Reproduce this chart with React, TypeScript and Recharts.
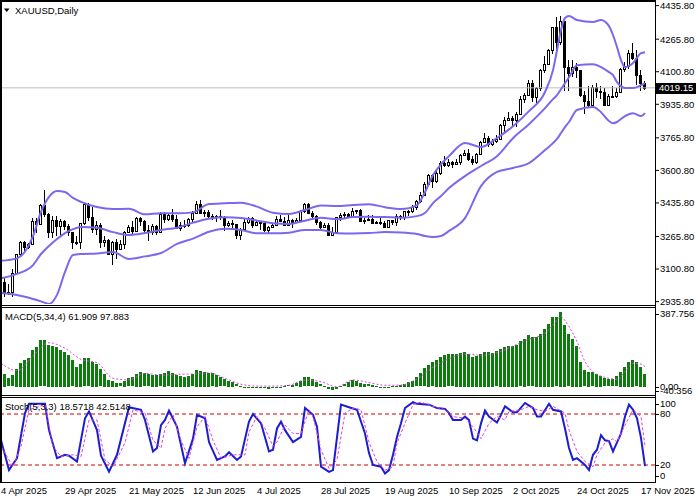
import { ComposedChart, Bar, Line, XAxis, YAxis, ReferenceLine } from "recharts";

const FONT = "'Liberation Sans', Arial, sans-serif";

// XAUUSD daily, 4 Apr 2025 .. 18 Nov 2025 (bar index = position on the chart)
const opens = [
  3114, 3037, 2982, 2982, 3083, 3175, 3237, 3210, 3229, 3343,
  3327, 3423, 3381, 3288, 3349, 3319, 3344, 3317, 3288, 3239,
  3240, 3334, 3431, 3365, 3305, 3324, 3236, 3248, 3177, 3240,
  3202, 3229, 3290, 3314, 3294, 3357, 3342, 3301, 3288, 3318,
  3289, 3381, 3353, 3373, 3352, 3310, 3325, 3322, 3354, 3386,
  3432, 3385, 3388, 3369, 3370, 3368, 3366, 3323, 3332, 3328,
  3274, 3303, 3338, 3357, 3326, 3337, 3335, 3301, 3313, 3324,
  3355, 3343, 3324, 3347, 3338, 3350, 3396, 3431, 3387, 3368,
  3337, 3314, 3326, 3274, 3289, 3363, 3373, 3380, 3368, 3396,
  3398, 3343, 3348, 3356, 3335, 3337, 3332, 3315, 3347, 3339,
  3371, 3365, 3393, 3397, 3416, 3448, 3477, 3533, 3578, 3545,
  3587, 3636, 3626, 3641, 3634, 3643, 3679, 3689, 3659, 3644,
  3685, 3746, 3763, 3736, 3749, 3760, 3833, 3858, 3866, 3857,
  3886, 3961, 3985, 4042, 3975, 4018, 4110, 4142, 4209, 4326,
  4251, 4356, 4125, 4095, 4126, 4111, 3981, 3952, 3930, 4024,
  4002, 4000, 3932, 3980, 3977, 4000, 4115, 4128, 4194, 4170,
  4084, 4045,
];
const highs = [
  3136, 3055, 3023, 3100, 3178, 3245, 3245, 3234, 3357, 3357,
  3430, 3500, 3386, 3368, 3371, 3352, 3348, 3328, 3291, 3269,
  3336, 3438, 3435, 3414, 3346, 3336, 3266, 3252, 3245, 3252,
  3250, 3295, 3325, 3346, 3366, 3364, 3350, 3325, 3330, 3325,
  3392, 3392, 3385, 3403, 3376, 3338, 3349, 3360, 3397, 3446,
  3452, 3402, 3400, 3382, 3375, 3398, 3370, 3346, 3350, 3330,
  3309, 3358, 3365, 3366, 3345, 3342, 3346, 3317, 3331, 3369,
  3375, 3366, 3377, 3352, 3361, 3402, 3433, 3438, 3393, 3373,
  3345, 3334, 3334, 3315, 3365, 3385, 3390, 3385, 3409, 3400,
  3405, 3358, 3375, 3375, 3345, 3358, 3345, 3350, 3351, 3379,
  3376, 3395, 3399, 3423, 3453, 3490, 3540, 3580, 3582, 3600,
  3646, 3674, 3658, 3648, 3656, 3686, 3703, 3707, 3672, 3688,
  3749, 3791, 3777, 3762, 3782, 3835, 3872, 3895, 3875, 3896,
  3977, 3991, 4060, 4059, 4023, 4116, 4179, 4218, 4330, 4380,
  4381, 4360, 4161, 4160, 4147, 4112, 4003, 4030, 4033, 4046,
  4030, 4020, 3990, 4028, 4020, 4120, 4148, 4210, 4245, 4211,
  4108, 4052,
];
const lows = [
  3015, 2957, 2970, 2957, 3072, 3167, 3194, 3204, 3225, 3283,
  3325, 3367, 3260, 3260, 3268, 3269, 3300, 3268, 3202, 3223,
  3201, 3323, 3342, 3282, 3271, 3208, 3213, 3171, 3120, 3154,
  3200, 3204, 3285, 3277, 3287, 3321, 3285, 3245, 3271, 3271,
  3287, 3333, 3344, 3339, 3307, 3293, 3308, 3314, 3339, 3385,
  3384, 3367, 3362, 3347, 3340, 3348, 3295, 3313, 3310, 3255,
  3247, 3295, 3327, 3311, 3323, 3297, 3287, 3283, 3310, 3322,
  3341, 3321, 3319, 3310, 3332, 3345, 3383, 3381, 3351, 3325,
  3301, 3308, 3268, 3268, 3281, 3346, 3352, 3358, 3365, 3381,
  3341, 3331, 3347, 3330, 3331, 3323, 3311, 3312, 3325, 3321,
  3351, 3351, 3370, 3385, 3400, 3436, 3471, 3528, 3511, 3537,
  3578, 3620, 3620, 3615, 3632, 3630, 3675, 3646, 3628, 3634,
  3683, 3738, 3717, 3722, 3740, 3758, 3793, 3850, 3820, 3822,
  3883, 3940, 3980, 3945, 3944, 4005, 4095, 4140, 4190, 4185,
  4237, 4004, 4004, 4075, 4069, 3975, 3886, 3918, 3920, 3967,
  3961, 3930, 3929, 3970, 3968, 3997, 4100, 4115, 4160, 4032,
  4005, 4010,
];
const closes = [
  3037, 2982, 2984, 3083, 3175, 3237, 3210, 3229, 3343, 3327,
  3423, 3381, 3288, 3349, 3319, 3344, 3317, 3288, 3239, 3240,
  3334, 3431, 3365, 3305, 3324, 3236, 3248, 3177, 3240, 3202,
  3229, 3290, 3314, 3294, 3357, 3342, 3301, 3288, 3318, 3289,
  3381, 3353, 3373, 3352, 3310, 3325, 3322, 3354, 3386, 3432,
  3385, 3388, 3369, 3370, 3368, 3366, 3323, 3332, 3328, 3274,
  3303, 3338, 3357, 3326, 3337, 3335, 3301, 3313, 3324, 3355,
  3343, 3324, 3347, 3338, 3350, 3396, 3431, 3387, 3368, 3337,
  3314, 3326, 3274, 3289, 3363, 3373, 3380, 3368, 3396, 3398,
  3343, 3348, 3356, 3335, 3337, 3332, 3315, 3347, 3339, 3371,
  3365, 3393, 3397, 3416, 3448, 3477, 3533, 3578, 3545, 3587,
  3636, 3626, 3641, 3634, 3643, 3679, 3689, 3659, 3644, 3685,
  3746, 3763, 3736, 3749, 3760, 3833, 3858, 3866, 3857, 3886,
  3961, 3985, 4042, 3975, 4018, 4110, 4142, 4209, 4326, 4251,
  4356, 4125, 4095, 4126, 4111, 3981, 3952, 3930, 4024, 4002,
  4000, 3932, 3980, 3977, 4000, 4115, 4128, 4194, 4170, 4084,
  4045, 4019.15,
];

// Bollinger bands, read at these bars
const bandBars = [
  0, 4, 8, 10, 12, 14, 16, 18, 20, 24, 28, 32, 36, 40, 44, 48, 52, 56, 60, 64,
  68, 72, 76, 80, 84, 88, 92, 96, 100, 104, 106, 108, 110, 112, 116, 120, 124, 128, 132, 136,
  138, 139, 140, 141, 142, 144, 148, 150, 152, 153, 154, 155, 156, 158, 160, 161,
];
const bbUpper = [
  3143, 3155, 3268, 3390, 3466, 3496, 3491, 3461, 3441, 3415, 3405, 3406, 3378, 3384, 3383, 3388, 3430, 3434, 3437, 3417,
  3386, 3380, 3400, 3423, 3420, 3425, 3429, 3414, 3405, 3425, 3491, 3577, 3632, 3673, 3740, 3719, 3765, 3825, 3901, 3998,
  4109, 4210, 4312, 4373, 4383, 4363, 4353, 4363, 4332, 4287, 4226, 4160, 4124, 4145, 4195, 4200,
];
const bbMiddle = [
  3054, 3076, 3121, 3177, 3218, 3253, 3283, 3303, 3314, 3310, 3288, 3273, 3283, 3299, 3310, 3336, 3356, 3363, 3360, 3346,
  3333, 3329, 3346, 3361, 3353, 3364, 3366, 3364, 3361, 3369, 3385, 3435, 3471, 3511, 3572, 3623, 3673, 3764, 3835, 3916,
  3962, 3982, 4012, 4043, 4073, 4134, 4139, 4124, 4099, 4084, 4048, 4028, 4018, 4018, 4033, 4043,
];
const bbLower = [
  2979, 2969, 2949, 2937, 2924, 2970, 3086, 3172, 3177, 3180, 3187, 3152, 3165, 3182, 3228, 3255, 3290, 3305, 3299, 3282,
  3282, 3285, 3299, 3299, 3282, 3281, 3283, 3288, 3286, 3278, 3268, 3263, 3268, 3294, 3359, 3521, 3593, 3613, 3638, 3704,
  3739, 3760, 3790, 3820, 3846, 3907, 3922, 3896, 3851, 3840, 3846, 3861, 3876, 3891, 3876, 3891,
];

// MACD(5,34,4): histogram on every bar, signal read at these bars
const macdMain = [
  94, 62, 40, 55, 88, 115, 130, 142, 178, 195,
  226, 226, 203, 198, 194, 180, 170, 155, 128, 97,
  110, 138, 138, 122, 112, 85, 62, 33, 29, 19,
  16, 29, 41, 46, 64, 72, 65, 60, 58, 57,
  60, 68, 75, 68, 57, 54, 49, 52, 60, 81,
  78, 72, 68, 65, 57, 46, 36, 29, 23, 12,
  5, -3, -6, -3, -3, -5, -3, -8, -6, -3,
  -2, 3, 7, 8, 16, 29, 46, 46, 36, 24,
  12, 3, -8, -16, -8, 3, 12, 22, 33, 26,
  19, 15, 12, 8, 4, 0, -4, 0, 2, 4,
  8, 14, 22, 30, 45, 65, 90, 108, 118, 132,
  146, 154, 157, 158, 160, 164, 168, 160, 146, 150,
  160, 170, 168, 165, 172, 185, 195, 198, 198, 205,
  220, 232, 250, 240, 244, 258, 282, 305, 340, 338,
  365, 300, 255, 232, 200, 120, 80, 73, 70, 62,
  52, 40, 36, 36, 50, 72, 95, 120, 130, 118,
  95, 61.909,
];
const signalBars = [
  0, 4, 8, 12, 16, 20, 24, 28, 32, 36, 40, 44, 48, 52, 56, 60, 64, 68, 72, 76,
  80, 84, 88, 92, 96, 100, 104, 108, 112, 116, 120, 124, 128, 132, 136,
  138, 140, 141, 142, 144, 146, 148, 152, 154, 156, 158, 160, 161,
];
const macdSignal = [
  114, 78, 150, 214, 187, 133, 117, 41, 33, 65, 57, 60, 62, 68, 41, 12, 3, 3, 7, 33,
  24, 0, 33, 20, 7, 8, 39, 94, 136, 159, 153, 165, 198, 231, 260,
  300, 341, 321, 292, 219, 122, 73, 41, 36, 73, 114, 110, 97.883,
];

// Stochastic(5,3,3), read at turning points
const stochMainBars = [
  0, 2, 4, 6, 7, 11, 12, 14, 16, 17, 19, 21, 22, 24, 25, 27, 29, 32, 35, 36,
  38, 39, 40, 41, 42, 44, 46, 48, 49, 51, 52, 54, 56, 57, 59, 60, 62, 63, 65, 67,
  68, 69, 70, 71, 73, 75, 76, 78, 79, 80, 82, 83, 85, 87, 89, 91, 92, 93, 95, 96,
  97, 98, 99, 100, 101, 103, 104, 107, 109, 111, 112, 113, 115, 116, 117, 118, 119, 120, 121, 122,
  124, 125, 126, 128, 129, 131, 133, 134, 135, 137, 138, 140, 141, 142, 143, 144, 146, 147, 148, 149,
  150, 151, 152, 153, 155, 156, 157, 158, 159, 160, 161,
];
const stochMain = [
  49, 14, 28, 81, 92, 92, 61, 28, 32, 31, 24, 75, 83, 61, 31, 12, 32, 88, 85, 73,
  36, 40, 67, 73, 84, 65, 22, 51, 79, 75, 47, 26, 30, 35, 26, 30, 71, 80, 69, 36,
  38, 63, 71, 61, 47, 53, 87, 79, 65, 18, 12, 14, 91, 88, 85, 57, 34, 20, 18, 10,
  14, 32, 53, 69, 87, 94, 92, 91, 87, 86, 81, 73, 73, 77, 73, 51, 49, 69, 84, 77,
  70, 79, 89, 82, 82, 93, 87, 77, 77, 92, 85, 83, 63, 40, 26, 28, 20, 14, 32, 38,
  55, 49, 48, 36, 57, 77, 91, 85, 75, 52, 18.5718,
];
const stochSignalBars = [
  0, 3, 5, 7, 11, 13, 15, 18, 20, 22, 24, 26, 28, 31, 33, 36, 38, 40, 41, 43,
  45, 47, 49, 51, 53, 55, 58, 61, 62, 64, 66, 68, 69, 71, 73, 75, 77, 78, 80, 82,
  84, 86, 88, 90, 92, 94, 96, 98, 99, 101, 103, 105, 108, 111, 113, 116, 118, 120, 122, 124,
  126, 127, 130, 132, 134, 136, 138, 141, 142, 144, 146, 148, 149, 151, 153, 154, 156, 158, 160, 161,
];
const stochSignal = [
  42, 18, 42, 85, 91, 42, 30, 32, 30, 73, 73, 26, 18, 46, 85, 81, 49, 40, 63, 79,
  49, 28, 65, 77, 49, 28, 32, 32, 59, 77, 63, 42, 47, 67, 57, 57, 85, 77, 38, 16,
  26, 81, 87, 85, 47, 24, 14, 18, 46, 69, 91, 94, 89, 85, 77, 75, 65, 51, 69, 77,
  73, 83, 85, 89, 85, 83, 89, 81, 61, 36, 24, 18, 32, 46, 51, 47, 67, 85, 77, 42.5148,
];

const dateTicks = [0, 16, 32, 48, 64, 80, 96, 112, 128, 144, 160];
const dateLabels = [
  "4 Apr 2025", "29 Apr 2025", "21 May 2025", "12 Jun 2025", "4 Jul 2025", "28 Jul 2025",
  "19 Aug 2025", "10 Sep 2025", "2 Oct 2025", "24 Oct 2025", "17 Nov 2025",
];
const priceTicks = [2935.8, 3100.8, 3265.8, 3435.8, 3600.8, 3765.8, 3935.8, 4100.8, 4265.8, 4435.8];
const lastPrice = 4019.15;

const rows: any[] = opens.map((o, k) => ({
  k,
  o,
  h: highs[k],
  l: lows[k],
  c: closes[k],
  range: [lows[k], highs[k]],
  macd: macdMain[k],
}));
bandBars.forEach((k, j) => {
  rows[k].ub = bbUpper[j];
  rows[k].mb = bbMiddle[j];
  rows[k].lb = bbLower[j];
});
signalBars.forEach((k, j) => (rows[k].sig = macdSignal[j]));
stochMainBars.forEach((k, j) => (rows[k].sk = stochMain[j]));
stochSignalBars.forEach((k, j) => (rows[k].sd = stochSignal[j]));

const X_DOMAIN = [0, 163.5];
const BAND = "#7b68ee";

function Candle(props: any) {
  const { x, y, width, height, payload } = props;
  if (!payload || height == null) return null;
  const { o, h, l, c } = payload;
  const top = Math.min(y, y + height);
  const hgt = Math.abs(height);
  const px = Math.floor(x + width / 2);
  const k = hgt / (h - l || 1);
  const yOf = (v: number) => top + (h - v) * k;
  const bTop = Math.round(yOf(Math.max(o, c)));
  const bBot = Math.round(yOf(Math.min(o, c)));
  const bull = c >= o;
  return (
    <g shapeRendering="crispEdges">
      <line x1={px + 0.5} x2={px + 0.5} y1={Math.round(top)} y2={Math.round(top + hgt)} stroke="#000" />
      <rect
        x={px - 0.5}
        y={bTop + 0.5}
        width={2}
        height={Math.max(bBot - bTop, 1)}
        fill={bull ? "#fff" : "#000"}
        stroke="#000"
      />
    </g>
  );
}

function MacdBar(props: any) {
  const { x, y, width, height } = props;
  if (height == null) return null;
  const px = Math.floor(x + width / 2);
  const top = Math.min(y, y + height);
  return (
    <rect
      x={px - 1}
      y={Math.round(top)}
      width={3}
      height={Math.max(Math.round(Math.abs(height)), 1)}
      fill="#0b7d0b"
      shapeRendering="crispEdges"
    />
  );
}

function PriceTag(props: any) {
  const vb = props.viewBox;
  if (!vb) return null;
  const x = vb.x + vb.width + 1;
  return (
    <g>
      <rect x={x} y={Math.round(vb.y) - 5} width={40} height={11} fill="#000" />
      <text x={x + 3} y={vb.y} dy="0.36em" fill="#fff" fontSize={9.5} fontFamily={FONT}>
        {lastPrice.toFixed(2)}
      </text>
    </g>
  );
}

function ShiftedTick(props: any) {
  const { x, y, payload, shifts, fmt } = props;
  const dy = shifts[String(payload.value)] || 0;
  return (
    <g>
      <line x1={x - 5} x2={x - 1} y1={Math.round(y + dy) + 0.5} y2={Math.round(y + dy) + 0.5} stroke="#000" />
      <text x={x} y={y + dy} dy="0.36em" fontSize={9.5} fill="#000" fontFamily={FONT}>
        {fmt(payload.value)}
      </text>
    </g>
  );
}

function DateTick(props: any) {
  const { x, payload } = props;
  const i = dateTicks.indexOf(payload.value);
  return (
    <text x={x} y={94} dy="0.36em" fontSize={9.5} fill="#000" fontFamily={FONT} textAnchor="start">
      {dateLabels[i]}
    </text>
  );
}

export default function App() {
  return (
    <div
      style={{
        position: "absolute",
        left: 0,
        top: 0,
        width: 700,
        height: 500,
        background: "#fff",
        overflow: "hidden",
        fontFamily: FONT,
      }}
    >
      {/* price + bollinger */}
      <div style={{ position: "absolute", left: 0, top: 0 }}>
        <ComposedChart width={700} height={309} data={rows} margin={{ top: 1, right: 0, bottom: 5, left: 1 }}>
          <XAxis dataKey="k" type="number" domain={X_DOMAIN} hide />
          <YAxis
            orientation="right"
            width={45}
            domain={[2923.6, 4459.3]}
            ticks={priceTicks}
            interval={0}
            allowDataOverflow
            axisLine={false}
            tickSize={4}
            tickMargin={1}
            tickLine={{ stroke: "#000" }}
            tick={{ fontSize: 9.5, fill: "#000", fontFamily: FONT }}
            tickFormatter={(v: number) => v.toFixed(2)}
          />
          <ReferenceLine y={lastPrice} stroke="#bdbdbd" label={PriceTag} />
          <Bar dataKey="range" shape={<Candle />} barSize={3} isAnimationActive={false} />
          <Line dataKey="ub" type="monotone" stroke={BAND} strokeWidth={2} dot={false} activeDot={false} connectNulls isAnimationActive={false} />
          <Line dataKey="mb" type="monotone" stroke={BAND} strokeWidth={2} dot={false} activeDot={false} connectNulls isAnimationActive={false} />
          <Line dataKey="lb" type="monotone" stroke={BAND} strokeWidth={2} dot={false} activeDot={false} connectNulls isAnimationActive={false} />
        </ComposedChart>
      </div>

      {/* white strip under the price panel, so the MACD window starts clean */}
      <div style={{ position: "absolute", left: 0, top: 306, width: 655, height: 3, background: "#fff" }} />

      {/* MACD */}
      <div style={{ position: "absolute", left: 0, top: 307 }}>
        <ComposedChart width={700} height={88} data={rows} margin={{ top: 0, right: 0, bottom: 0, left: 1 }}>
          <XAxis dataKey="k" type="number" domain={X_DOMAIN} hide />
          <YAxis
            orientation="right"
            width={45}
            domain={[-40.356, 387.756]}
            ticks={[-40.356, 0, 387.756]}
            interval={0}
            axisLine={false}
            tickLine={false}
            tickSize={4}
            tickMargin={1}
            tick={
              <ShiftedTick
                shifts={{ "387.756": 7, "-40.356": -4 }}
                fmt={(v: number) => (v === 0 ? "0.00" : v.toFixed(3))}
              />
            }
          />
          <Bar dataKey="macd" shape={<MacdBar />} barSize={3} isAnimationActive={false} />
          <Line dataKey="sig" type="monotone" stroke="#e040e0" strokeDasharray="2 2" dot={false} activeDot={false} connectNulls isAnimationActive={false} />
        </ComposedChart>
      </div>

      {/* Stochastic */}
      <div style={{ position: "absolute", left: 0, top: 397 }}>
        <ComposedChart width={700} height={103} data={rows} margin={{ top: 0, right: 0, bottom: 0, left: 1 }}>
          <XAxis
            dataKey="k"
            type="number"
            domain={X_DOMAIN}
            ticks={dateTicks}
            interval={0}
            height={18}
            axisLine={false}
            tickLine={false}
            tick={<DateTick />}
          />
          <YAxis
            orientation="right"
            width={45}
            domain={[0, 100]}
            ticks={[0, 20, 80, 100]}
            interval={0}
            axisLine={false}
            tickLine={false}
            tickSize={4}
            tickMargin={1}
            tick={<ShiftedTick shifts={{ "100": 7, "0": -6 }} fmt={(v: number) => String(v)} />}
          />
          <ReferenceLine y={80} stroke="#d00000" strokeDasharray="4 3" />
          <ReferenceLine y={20} stroke="#d00000" strokeDasharray="4 3" />
          <Line dataKey="sk" type="linear" stroke="#1c1cd0" strokeWidth={2} dot={false} activeDot={false} connectNulls isAnimationActive={false} />
          <Line dataKey="sd" type="linear" stroke="#e040e0" strokeDasharray="3 2" dot={false} activeDot={false} connectNulls isAnimationActive={false} />
        </ComposedChart>
      </div>

      {/* window frames and captions */}
      <svg
        width={700}
        height={500}
        style={{ position: "absolute", left: 0, top: 0, pointerEvents: "none" }}
        shapeRendering="crispEdges"
      >
        <rect x={0} y={0} width={2} height={482} fill="#000" />
        <rect x={0} y={0} width={656} height={2} fill="#000" />
        <rect x={655} y={0} width={1} height={483} fill="#000" />
        <rect x={0} y={305} width={656} height={1} fill="#000" />
        <rect x={0} y={307} width={656} height={1} fill="#000" />
        <rect x={0} y={395} width={656} height={1} fill="#000" />
        <rect x={0} y={397} width={656} height={1} fill="#000" />
        <rect x={0} y={482} width={656} height={1} fill="#000" />
        <polygon points="4,8.5 9.5,8.5 6.75,12" fill="#000" shapeRendering="auto" />
        <g fontFamily={FONT} fontSize={9.5} fill="#000">
          <text x={15} y={13.5}>XAUUSD,Daily</text>
          <text x={5} y={319.5}>MACD(5,34,4) 61.909 97.883</text>
          <text x={5} y={410}>Stoch(5,3,3) 18.5718 42.5148</text>
        </g>
      </svg>
    </div>
  );
}
